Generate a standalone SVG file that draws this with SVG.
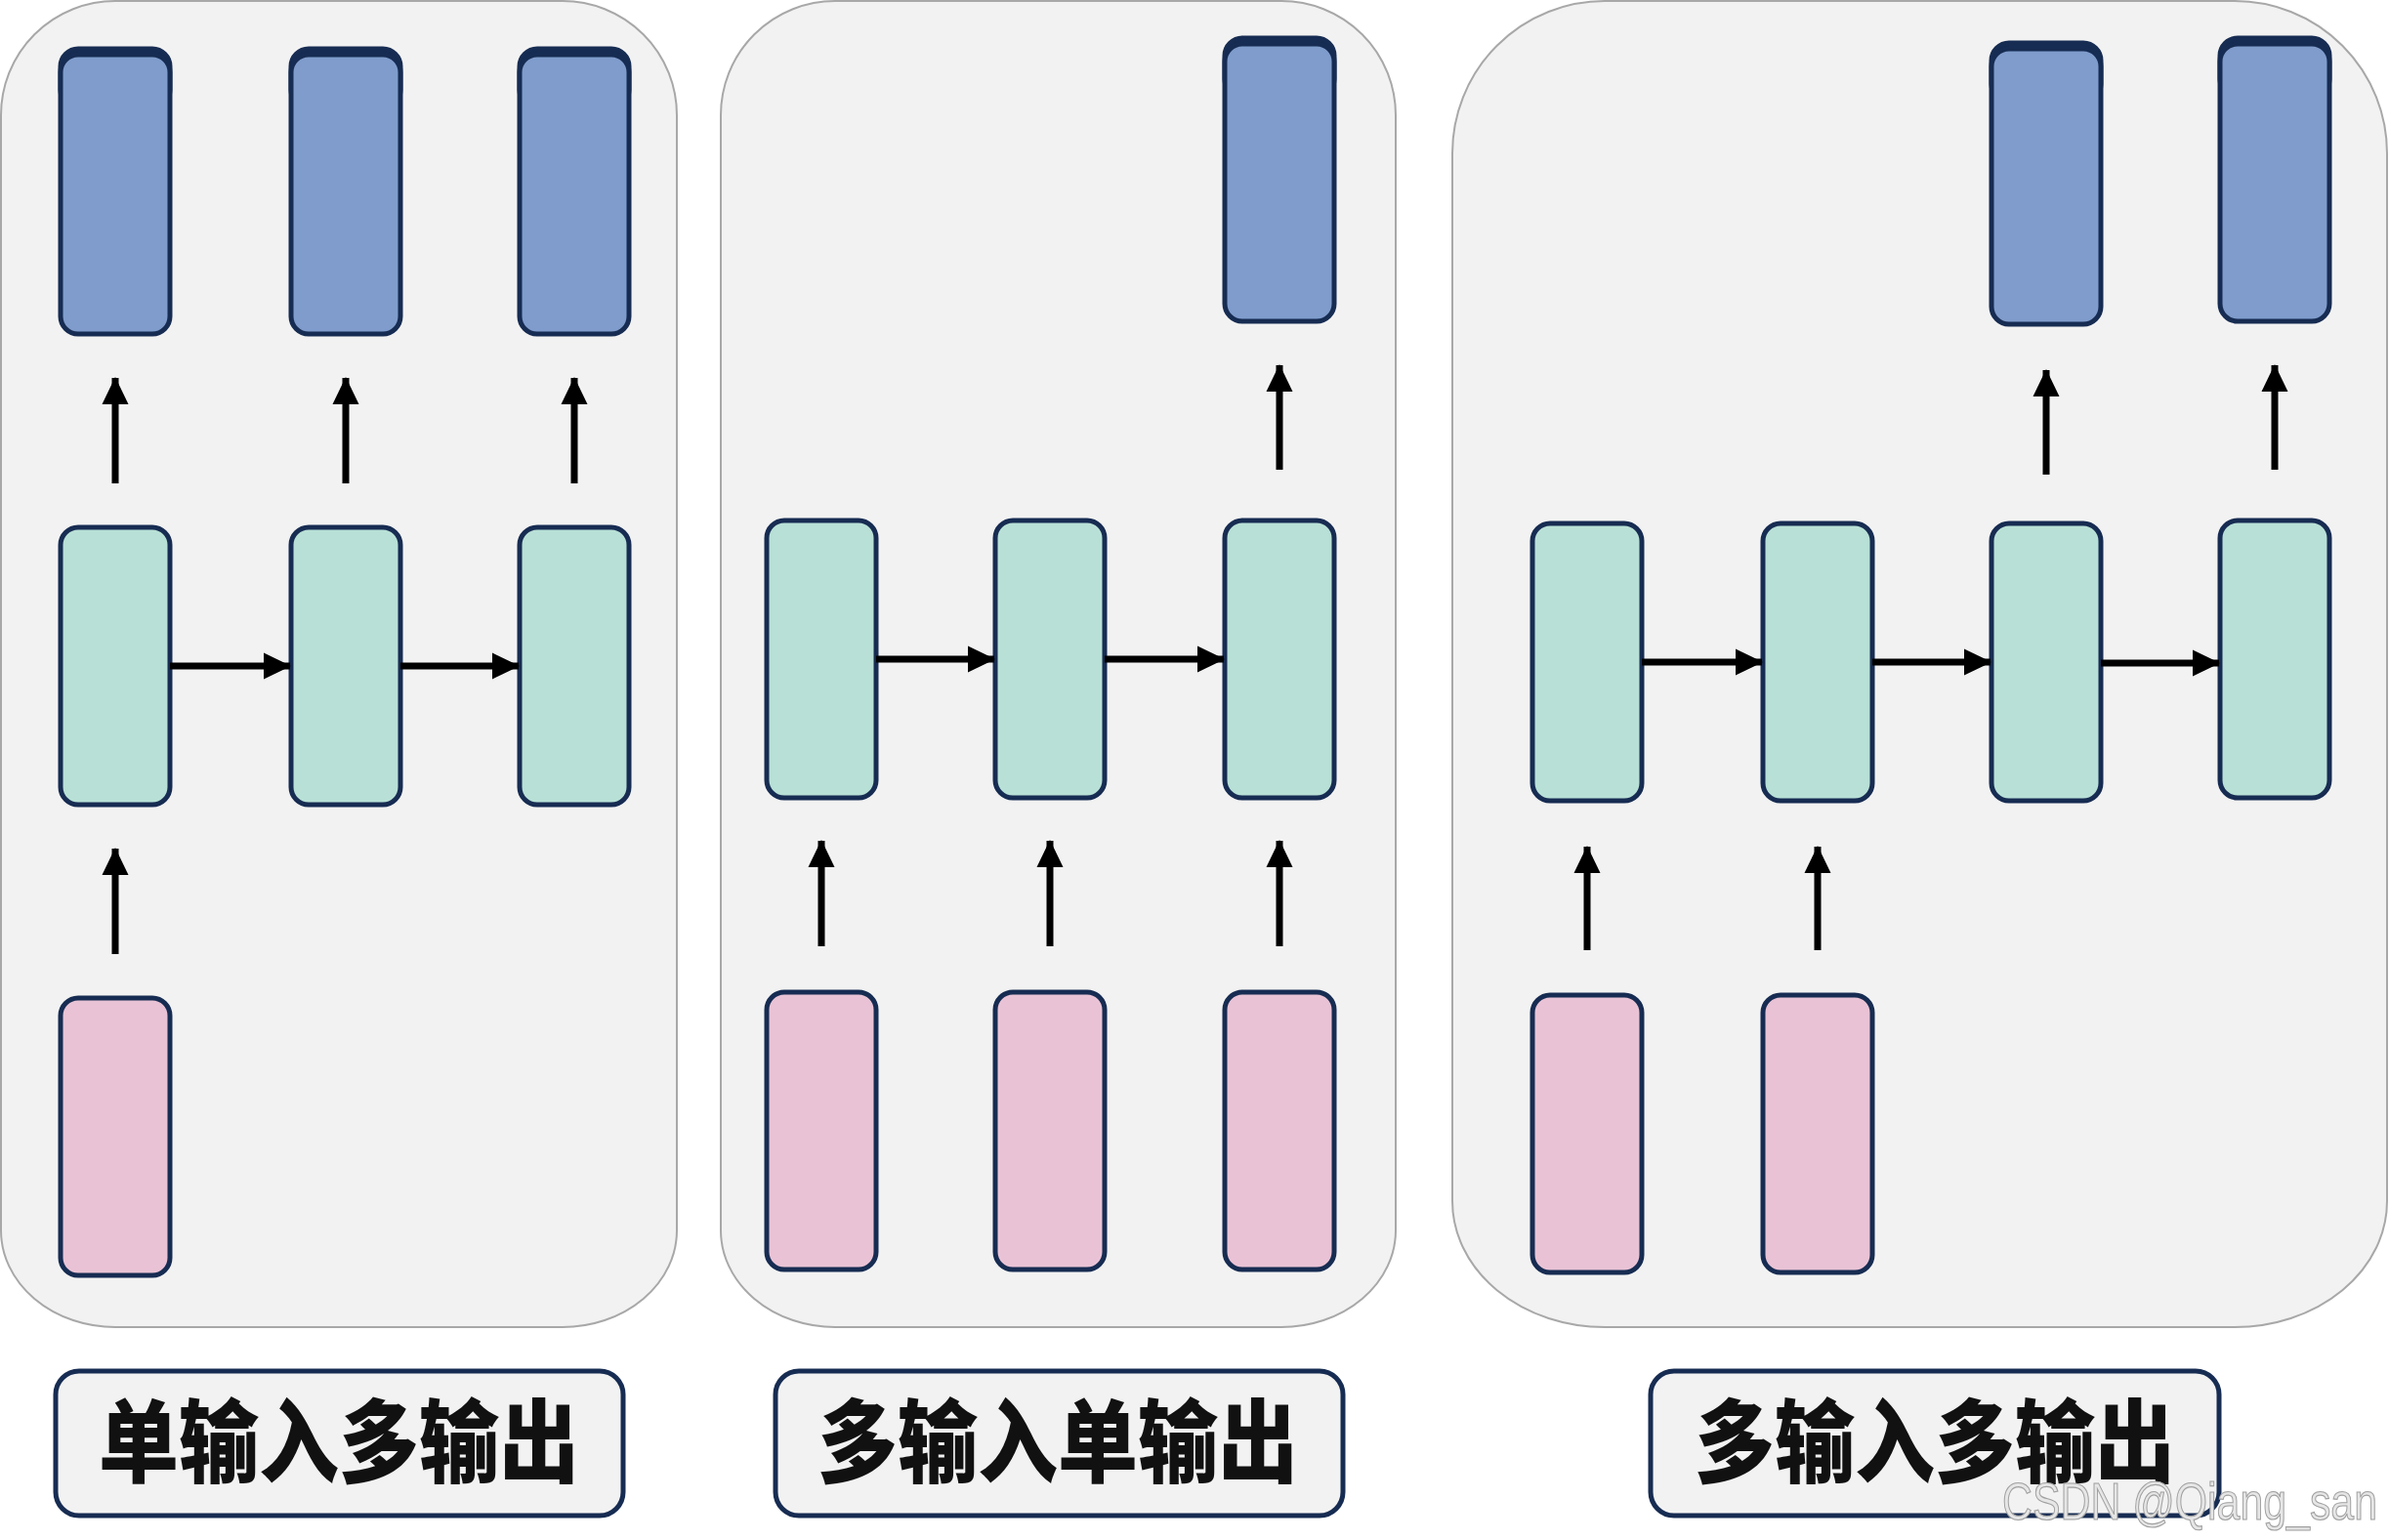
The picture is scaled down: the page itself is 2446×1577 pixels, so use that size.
<svg xmlns="http://www.w3.org/2000/svg" width="2446" height="1577" viewBox="0 0 2446 1577">
<defs>
<style>
.panel{fill:#f2f2f2;stroke:#a8a8a8;stroke-width:2}
.node{stroke:#172c52;stroke-width:5}
.blue{fill:#7f9ccc}
.green{fill:#b8e0d6}
.pink{fill:#e9c3d5}
.top{fill:#172c52;stroke:#172c52;stroke-width:5}
.lbl{fill:#f2f2f2;stroke:#172c52;stroke-width:5}
.ltxt{font-family:"Noto Sans CJK SC","Noto Sans CJK JP",sans-serif;font-weight:900;font-size:82px;fill:#111;text-anchor:middle}
.wm{font-family:"Liberation Sans","DejaVu Sans",sans-serif;font-size:54px;fill:#e6e6e6;stroke:#a0a0a0;stroke-width:1.2}
.arr{stroke:#000;stroke-width:7;fill:none;marker-end:url(#ah)}
</style>
<marker id="ah" viewBox="0 0 28 28" refX="27" refY="14" markerWidth="28" markerHeight="28" markerUnits="userSpaceOnUse" orient="auto">
<path d="M0,0.5 L28,14 L0,27.5 Z" fill="#000"/>
</marker>
</defs>
<rect width="2446" height="1577" fill="#ffffff"/>

<g id="panel1"><path class="panel" d="M118,1 H576 A117,117 0 0 1 693,118 V1260 A117,99 0 0 1 576,1359 H118 A117,99 0 0 1 1,1260 V118 A117,117 0 0 1 118,1 Z"/></g>
<g id="panel2"><path class="panel" d="M855,1 H1312 A117,117 0 0 1 1429,118 V1260 A117,99 0 0 1 1312,1359 H855 A117,99 0 0 1 738,1260 V118 A117,117 0 0 1 855,1 Z"/></g>
<g id="panel3"><path class="panel" d="M1643,1 H2288 A156,156 0 0 1 2444,157 V1230 A156,129 0 0 1 2288,1359 H1643 A156,129 0 0 1 1487,1230 V157 A156,156 0 0 1 1643,1 Z"/></g>

<!-- Panel 1 nodes -->
<g id="p1-out1"><rect class="top" x="62" y="50" width="112" height="60" rx="18"/><rect class="node blue" x="62" y="56" width="112" height="286" rx="18"/></g>
<g id="p1-out2"><rect class="top" x="298" y="50" width="112" height="60" rx="18"/><rect class="node blue" x="298" y="56" width="112" height="286" rx="18"/></g>
<g id="p1-out3"><rect class="top" x="532" y="50" width="112" height="60" rx="18"/><rect class="node blue" x="532" y="56" width="112" height="286" rx="18"/></g>
<g id="p1-h1"><rect class="node green" x="62" y="540" width="112" height="284" rx="18"/></g>
<g id="p1-h2"><rect class="node green" x="298" y="540" width="112" height="284" rx="18"/></g>
<g id="p1-h3"><rect class="node green" x="532" y="540" width="112" height="284" rx="18"/></g>
<g id="p1-in1"><rect class="node pink" x="62" y="1022" width="112" height="284" rx="18"/></g>

<!-- Panel 2 nodes -->
<g id="p2-out1"><rect class="top" x="1254" y="39" width="112" height="60" rx="18"/><rect class="node blue" x="1254" y="45" width="112" height="284" rx="18"/></g>
<g id="p2-h1"><rect class="node green" x="785" y="533" width="112" height="284" rx="18"/></g>
<g id="p2-h2"><rect class="node green" x="1019" y="533" width="112" height="284" rx="18"/></g>
<g id="p2-h3"><rect class="node green" x="1254" y="533" width="112" height="284" rx="18"/></g>
<g id="p2-in1"><rect class="node pink" x="785" y="1016" width="112" height="284" rx="18"/></g>
<g id="p2-in2"><rect class="node pink" x="1019" y="1016" width="112" height="284" rx="18"/></g>
<g id="p2-in3"><rect class="node pink" x="1254" y="1016" width="112" height="284" rx="18"/></g>

<!-- Panel 3 nodes -->
<g id="p3-out1"><rect class="top" x="2039" y="44" width="112" height="60" rx="18"/><rect class="node blue" x="2039" y="50" width="112" height="282" rx="18"/></g>
<g id="p3-out2"><rect class="top" x="2273" y="39" width="112" height="60" rx="18"/><rect class="node blue" x="2273" y="45" width="112" height="284" rx="18"/></g>
<g id="p3-h1"><rect class="node green" x="1569" y="536" width="112" height="284" rx="18"/></g>
<g id="p3-h2"><rect class="node green" x="1805" y="536" width="112" height="284" rx="18"/></g>
<g id="p3-h3"><rect class="node green" x="2039" y="536" width="112" height="284" rx="18"/></g>
<g id="p3-h4"><rect class="node green" x="2273" y="533" width="112" height="284" rx="18"/></g>
<g id="p3-in1"><rect class="node pink" x="1569" y="1019" width="112" height="284" rx="18"/></g>
<g id="p3-in2"><rect class="node pink" x="1805" y="1019" width="112" height="284" rx="18"/></g>

<!-- Connectors -->
<g id="connectors">
<line class="arr" x1="118" y1="495" x2="118" y2="387"/>
<line class="arr" x1="354" y1="495" x2="354" y2="387"/>
<line class="arr" x1="588" y1="495" x2="588" y2="387"/>
<line class="arr" x1="174" y1="682" x2="297" y2="682"/>
<line class="arr" x1="410" y1="682" x2="531" y2="682"/>
<line class="arr" x1="118" y1="977" x2="118" y2="869"/>

<line class="arr" x1="1310" y1="481" x2="1310" y2="374"/>
<line class="arr" x1="897" y1="675" x2="1018" y2="675"/>
<line class="arr" x1="1131" y1="675" x2="1253" y2="675"/>
<line class="arr" x1="841" y1="969" x2="841" y2="861"/>
<line class="arr" x1="1075" y1="969" x2="1075" y2="861"/>
<line class="arr" x1="1310" y1="969" x2="1310" y2="861"/>

<line class="arr" x1="2095" y1="486" x2="2095" y2="379"/>
<line class="arr" x1="2329" y1="481" x2="2329" y2="374"/>
<line class="arr" x1="1681" y1="678" x2="1804" y2="678"/>
<line class="arr" x1="1917" y1="678" x2="2038" y2="678"/>
<line class="arr" x1="2151" y1="679" x2="2272" y2="679"/>
<line class="arr" x1="1625" y1="973" x2="1625" y2="867"/>
<line class="arr" x1="1861" y1="973" x2="1861" y2="867"/>
</g>

<!-- Labels -->
<g id="label1"><rect class="lbl" x="57" y="1404" width="581" height="148" rx="24"/><text class="ltxt" transform="translate(347,1511) scale(1,1.14)">单输入多输出</text></g>
<g id="label2"><rect class="lbl" x="794" y="1404" width="581" height="148" rx="24"/><text class="ltxt" transform="translate(1083,1511) scale(1,1.14)">多输入单输出</text></g>
<g id="label3"><rect class="lbl" x="1690" y="1404" width="582" height="148" rx="24"/><text class="ltxt" transform="translate(1981,1511) scale(1,1.14)">多输入多输出</text></g>

<text class="wm" x="2050" y="1556" textLength="384" lengthAdjust="spacingAndGlyphs">CSDN @Qiang_san</text>
</svg>
